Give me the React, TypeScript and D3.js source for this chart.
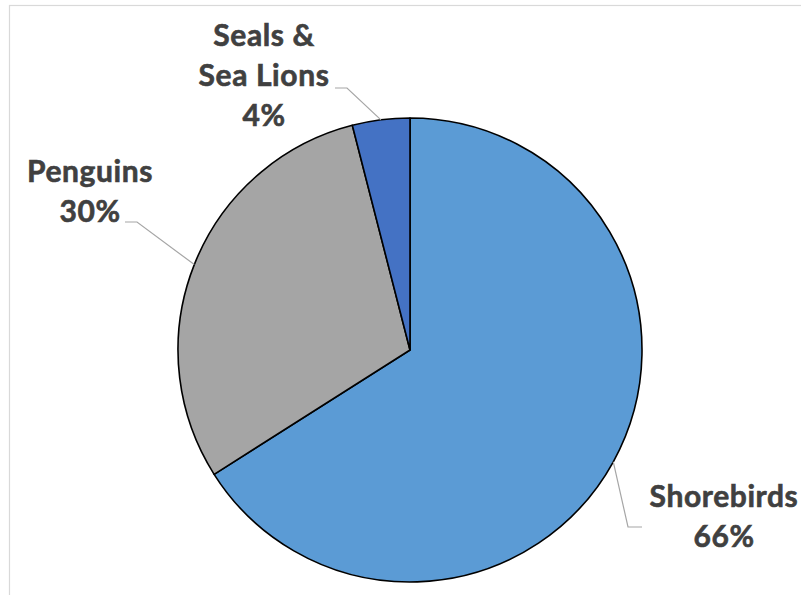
import React from "react";
import * as d3 from "d3";

const categories = ["Shorebirds", "Penguins", "Seals & Sea Lions"];
const values = [66, 30, 4];
const colors = ["#5B9BD5", "#A5A5A5", "#4472C4"];
const labelLines = [["Shorebirds"], ["Penguins"], ["Seals &", "Sea Lions"]];

const W = 801, H = 595;
const cx = 410, cy = 350, R = 232;

// label layout: text center x, first baseline, leader elbow, leader end
const labelLayout = [
  { x: 724, y: 507, elbow: [628, 527], end: [642, 527] },
  { x: 90, y: 182, elbow: [137, 222], end: [125, 222] },
  { x: 264, y: 46, elbow: [347, 88], end: [335, 88] },
];

export default function App() {
  const pie = d3.pie<number>().sort(null).value((d) => d)(values);
  const arc = d3.arc<d3.PieArcDatum<number>>().innerRadius(0).outerRadius(R);
  const total = d3.sum(values);
  const lh = 40;
  return (
    <svg width={W} height={H} style={{ position: "absolute", left: 0, top: 0 }}>
      <rect x={9.5} y={5.5} width={W + 20} height={H + 20} fill="white" stroke="#D9D9D9" strokeWidth={1.2} />
      <g transform={`translate(${cx},${cy})`}>
        {pie.map((p, i) => (
          <path key={i} d={arc(p) || ""} fill={colors[i]} stroke="#000" strokeWidth={1.6} strokeLinejoin="round" />
        ))}
      </g>
      {pie.map((p, i) => {
        const mid = (p.startAngle + p.endAngle) / 2;
        const sx = cx + Math.sin(mid) * R;
        const sy = cy - Math.cos(mid) * R;
        const L = labelLayout[i];
        const lines = [...labelLines[i], `${Math.round((values[i] / total) * 100)}%`];
        return (
          <g key={i}>
            <polyline
              points={`${sx},${sy} ${L.elbow[0]},${L.elbow[1]} ${L.end[0]},${L.end[1]}`}
              fill="none"
              stroke="#A6A6A6"
              strokeWidth={1.2}
            />
            <text
              x={L.x}
              y={L.y}
              textAnchor="middle"
              fontFamily="Lato, 'Open Sans', sans-serif"
              fontWeight={700}
              fontSize={30}
              letterSpacing={0.6}
              fill="#404040"
              stroke="#404040"
              strokeWidth={0.6}
            >
              {lines.map((t, j) => (
                <tspan key={j} x={L.x} y={L.y + j * lh}>
                  {t}
                </tspan>
              ))}
            </text>
          </g>
        );
      })}
    </svg>
  );
}
